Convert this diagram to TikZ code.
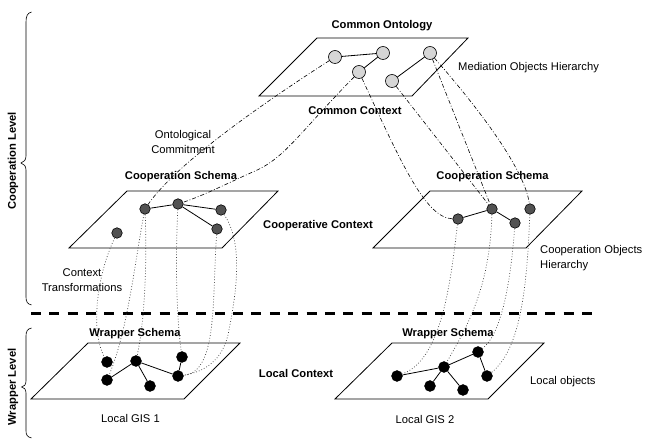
\documentclass[tikz,border=0pt]{standalone}
\usepackage{fontspec}
\setmainfont{Liberation Sans}
\begin{document}
\begin{tikzpicture}[x=1pt,y=-1pt,
  lbl/.style={font=\fontsize{11.2}{13}\selectfont\bfseries, inner sep=0pt},
  txt/.style={font=\fontsize{11.2}{15}\selectfont, inner sep=0pt, align=center},
  txtl/.style={font=\fontsize{11.2}{15}\selectfont, inner sep=0pt, align=left, anchor=west},
  plane/.style={draw=black, line width=0.8pt},
  tc/.style={circle, draw=black, line width=0.6pt, fill=black!16, minimum size=13pt, inner sep=0pt},
  cc/.style={circle, draw=black, line width=0.6pt, fill=black!68, minimum size=10.5pt, inner sep=0pt},
  wc/.style={circle, draw=black, fill=black, minimum size=11pt, inner sep=0pt},
  tie/.style={draw=black, line width=0.8pt},
  commit/.style={draw=black, line width=0.6pt, dash pattern=on 4pt off 2pt on 0.8pt off 2pt},
  transf/.style={draw=black!75, line width=0.7pt, dash pattern=on 0.8pt off 2pt},
  bracestyle/.style={draw=black, line width=0.6pt},
  levelline/.style={draw=black, line width=3pt, dash pattern=on 10pt off 8.37pt},
]
\useasboundingbox (0,0) rectangle (651,443);

% planes
\draw[plane] (259,96) -- (412,96) -- (468,38) -- (317,38) -- cycle;
\draw[plane] (69,248) -- (222,248) -- (278,191) -- (127,191) -- cycle;
\draw[plane] (373,248) -- (526,248) -- (582,191) -- (430,191) -- cycle;
\draw[plane] (31,399) -- (184,399) -- (240,343) -- (88,343) -- cycle;
\draw[plane] (335,399) -- (488,399) -- (544,343) -- (392,343) -- cycle;

% level separator
\coordinate (sepL) at (31,314);
\coordinate (sepR) at (592,314);
\draw[levelline] (sepL) -- (sepR);

% braces
\draw[bracestyle] (31.5,12) .. controls (27.5,13) and (26,16) .. (26,22) -- (26,156)
  .. controls (26,160) and (24,162) .. (21,163) .. controls (24,164) and (26,166) .. (26,170)
  -- (26,297) .. controls (26,302) and (27.5,304) .. (31.5,305);
\draw[bracestyle] (31.5,328) .. controls (27.5,329) and (26,331) .. (26,336) -- (26,381)
  .. controls (26,385) and (24,386.5) .. (21.5,387) .. controls (24,387.5) and (26,389) .. (26,393)
  -- (26,431) .. controls (26,435) and (27.5,437) .. (31.5,438);
\node[lbl, rotate=90] (coopl) at (13,161) {Cooperation Level};
\node[lbl, rotate=90] (wrapl) at (13,387) {Wrapper Level};

% labels
\node[lbl] (co) at (382,26) {Common Ontology};
\node[txtl] (moh) at (458,68) {Mediation Objects Hierarchy};
\node[lbl] (cctx) at (355,111) {Common Context};
\node[txt] (oc) at (183,142) {Ontological\\Commitment};
\node[lbl] (cs1) at (181,177) {Cooperation Schema};
\node[lbl] (cs2) at (492.5,177) {Cooperation Schema};
\node[lbl] (cpc) at (318,226) {Cooperative Context};
\node[txt] (ctr) at (82,280) {Context\\Transformations};
\node[txtl] (coh) at (540,258) {Cooperation Objects\\Hierarchy};
\node[lbl] (ws1) at (135,334) {Wrapper Schema};
\node[lbl] (ws2) at (448,334) {Wrapper Schema};
\node[lbl] (lctx) at (296,373) {Local Context};
\node[txtl] (lob) at (530,382) {Local objects};
\node[txt] (lg1) at (130.5,418) {Local GIS 1};
\node[txt] (lg2) at (425,419) {Local GIS 2};

% objects
\node[tc] (t1) at (335,57) {};
\node[tc] (t2) at (383,53) {};
\node[tc] (t3) at (359,72) {};
\node[tc] (t4) at (430,53) {};
\node[tc] (t5) at (392,81) {};

\node[cc] (c1) at (117,233) {};
\node[cc] (c2) at (145,209) {};
\node[cc] (c3) at (178,204) {};
\node[cc] (c4) at (221,210) {};
\node[cc] (c5) at (217,229) {};

\node[cc] (r1) at (458,219) {};
\node[cc] (r2) at (492,209) {};
\node[cc] (r3) at (515,223) {};
\node[cc] (r4) at (530,209) {};

\node[wc] (w1) at (107,362) {};
\node[wc] (w2) at (136,361) {};
\node[wc] (w3) at (182,357) {};
\node[wc] (w4) at (107,380) {};
\node[wc] (w5) at (150,386) {};
\node[wc] (w6) at (178,376) {};

\node[wc] (v1) at (397,376) {};
\node[wc] (v2) at (444,367) {};
\node[wc] (v3) at (478,352) {};
\node[wc] (v4) at (430,386) {};
\node[wc] (v5) at (463,390) {};
\node[wc] (v6) at (487,376) {};

% hierarchy ties
\draw[tie] (t1) -- (t2);
\draw[tie] (t2) -- (t3);
\draw[tie] (t4) -- (t5);
\draw[tie] (c2) -- (c3);
\draw[tie] (c3) -- (c4);
\draw[tie] (c3) -- (c5);
\draw[tie] (r1) -- (r2);
\draw[tie] (r2) -- (r3);
\draw[tie] (w4) -- (w2);
\draw[tie] (w2) -- (w5);
\draw[tie] (w2) -- (w6);
\draw[tie] (w6) -- (w3);
\draw[tie] (v1) -- (v2);
\draw[tie] (v2) -- (v3);
\draw[tie] (v2) -- (v4);
\draw[tie] (v2) -- (v5);
\draw[tie] (v3) -- (v6);

% ontological commitment
\draw[commit] (t1) .. controls (260,105) and (175,165) .. (c2);
\draw[commit] (t3) .. controls (300,132) and (285,158) .. (255,171) .. controls (230,182) and (205,195) .. (c3);
\draw[commit] (t3) .. controls (400,160) and (425,218) .. (r1);
\draw[commit] (t5) -- (r2);
\draw[commit] (t4) -- (r2);
\draw[commit] (t4) .. controls (480,110) and (525,170) .. (r4);

% context transformations
\draw[transf] (c1) .. controls (97,275) and (90,330) .. (w1);
\draw[transf] (c2) .. controls (135,260) and (128,330) .. (w4);
\draw[transf] (c2) .. controls (147,260) and (145,320) .. (w2);
\draw[transf] (c3) .. controls (175,270) and (177,320) .. (w3);
\draw[transf] (c5) .. controls (212,300) and (218,372) .. (w6);
\draw[transf] (c4) .. controls (245,245) and (235,300) .. (228,335) .. controls (222,360) and (205,372) .. (w6);
\draw[transf] (r1) .. controls (450,290) and (440,360) .. (v1);
\draw[transf] (r2) .. controls (490,290) and (465,330) .. (v2);
\draw[transf] (r3) .. controls (510,290) and (500,335) .. (v3);
\draw[transf] (r4) .. controls (527,290) and (520,350) .. (v6);
\end{tikzpicture}
\end{document}
